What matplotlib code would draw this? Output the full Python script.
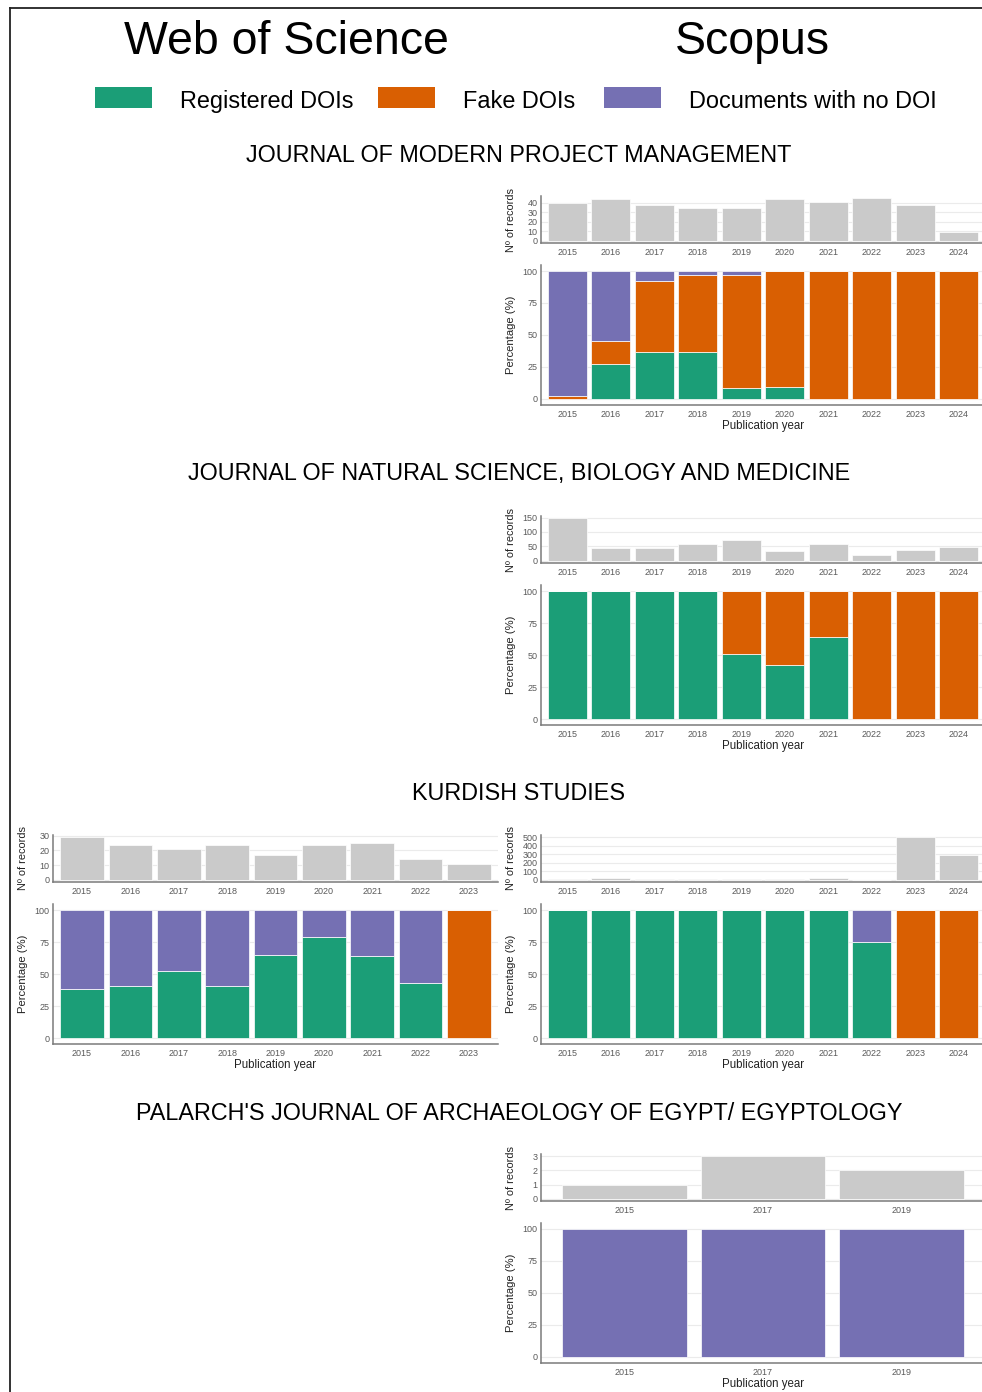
import matplotlib
matplotlib.use('Agg')
import matplotlib.pyplot as plt
from matplotlib.patches import Rectangle
from matplotlib.lines import Line2D
import numpy as np

plt.rcParams['font.family'] = ['Liberation Sans', 'DejaVu Sans']

W, H = 982, 1392

GREEN = '#1B9E77'
ORANGE = '#D95F02'
PURPLE = '#7570B3'
GREY_BAR = '#CACACA'

# ---- data ----
# Journal of Modern Project Management (Scopus)
jmpm_years = ['2015', '2016', '2017', '2018', '2019', '2020', '2021', '2022', '2023', '2024']
jmpm_records = [40, 44, 38, 35, 35, 44, 41, 45, 38, 9]
jmpm_registered = [0, 27, 37, 37, 8.5, 9, 0, 0, 0, 0]
jmpm_fake = [2.5, 18, 55, 60, 88.5, 91, 100, 100, 100, 100]
jmpm_nodoi = [97.5, 55, 8, 3, 3, 0, 0, 0, 0, 0]
jmpm_yticks = [0, 10, 20, 30, 40]

# Journal of Natural Science, Biology and Medicine (Scopus)
jnsbm_years = ['2015', '2016', '2017', '2018', '2019', '2020', '2021', '2022', '2023', '2024']
jnsbm_records = [148, 45, 43, 60, 72, 35, 58, 20, 37, 48]
jnsbm_registered = [100, 100, 100, 100, 51, 42, 64, 0, 0, 0]
jnsbm_fake = [0, 0, 0, 0, 49, 58, 36, 100, 100, 100]
jnsbm_nodoi = [0, 0, 0, 0, 0, 0, 0, 0, 0, 0]
jnsbm_yticks = [0, 50, 100, 150]

# Kurdish Studies (Web of Science)
ks_wos_years = ['2015', '2016', '2017', '2018', '2019', '2020', '2021', '2022', '2023']
ks_wos_records = [29, 24, 21, 24, 17, 24, 25, 14, 11]
ks_wos_registered = [38, 41, 52, 41, 65, 79, 64, 43, 0]
ks_wos_fake = [0, 0, 0, 0, 0, 0, 0, 0, 100]
ks_wos_nodoi = [62, 59, 48, 59, 35, 21, 36, 57, 0]
ks_wos_yticks = [0, 10, 20, 30]

# Kurdish Studies (Scopus)
ks_sc_years = ['2015', '2016', '2017', '2018', '2019', '2020', '2021', '2022', '2023', '2024']
ks_sc_records = [15, 18, 12, 12, 8, 10, 25, 4, 500, 295]
ks_sc_registered = [100, 100, 100, 100, 100, 100, 100, 75, 0, 0]
ks_sc_fake = [0, 0, 0, 0, 0, 0, 0, 0, 100, 100]
ks_sc_nodoi = [0, 0, 0, 0, 0, 0, 0, 25, 0, 0]
ks_sc_yticks = [0, 100, 200, 300, 400, 500]

# Palarch's Journal of Archaeology of Egypt/Egyptology (Scopus)
pja_years = ['2015', '2017', '2019']
pja_records = [1, 3, 2]
pja_registered = [0, 0, 0]
pja_fake = [0, 0, 0]
pja_nodoi = [100, 100, 100]
pja_yticks = [0, 1, 2, 3]

pct_ticks = [0, 25, 50, 75, 100]


def rect(x0, y0, x1, y1):
    return [x0 / W, 1 - y1 / H, (x1 - x0) / W, (y1 - y0) / H]


def style(ax):
    for s in ['top', 'right']:
        ax.spines[s].set_visible(False)
    for s in ['left', 'bottom']:
        ax.spines[s].set_color('#7a7a7a')
        ax.spines[s].set_linewidth(1.1)
    ax.tick_params(length=0, labelsize=6.5, labelcolor='#5a5a5a', pad=3.5)
    ax.tick_params(axis='y', pad=2.5)
    ax.yaxis.grid(True, color='#ebebeb', linewidth=0.8)
    ax.set_axisbelow(True)


def panel(x0, x1, top, years, records, yticks, reg, fake, nodoi):
    n = len(years)
    pos = np.arange(n)
    # records
    ax1 = fig.add_axes(rect(x0, top, x1, top + 47))
    ax1.bar(pos, records, width=0.9, color=GREY_BAR, edgecolor='white', linewidth=0.5)
    ax1.set_xlim(-0.6, n - 0.4)
    m = max(records)
    ax1.set_ylim(-0.05 * m, 1.05 * m)
    ax1.set_yticks(yticks)
    ax1.set_xticks(pos)
    ax1.set_xticklabels(years)
    style(ax1)
    ax1.set_ylabel('Nº of records', fontsize=7.9, color='#222222')
    ax1.yaxis.set_label_coords(-25 / (x1 - x0), 0.5)
    # percentages
    ax2 = fig.add_axes(rect(x0, top + 68.6, x1, top + 209.4))
    reg = np.array(reg, dtype=float)
    fake = np.array(fake, dtype=float)
    nodoi = np.array(nodoi, dtype=float)
    ax2.bar(pos, reg, width=0.9, color=GREEN, edgecolor='white', linewidth=0.5)
    ax2.bar(pos, fake, width=0.9, bottom=reg, color=ORANGE, edgecolor='white', linewidth=0.5)
    ax2.bar(pos, nodoi, width=0.9, bottom=reg + fake, color=PURPLE, edgecolor='white', linewidth=0.5)
    ax2.set_xlim(-0.6, n - 0.4)
    ax2.set_ylim(-5, 105)
    ax2.set_yticks(pct_ticks)
    ax2.set_xticks(pos)
    ax2.set_xticklabels(years)
    style(ax2)
    ax2.set_ylabel('Percentage (%)', fontsize=8.1, color='#222222')
    ax2.yaxis.set_label_coords(-25 / (x1 - x0), 0.5)
    ax2.set_xlabel('Publication year', fontsize=8.3, color='#222222', va='center')
    ax2.xaxis.set_label_coords(0.5, -21 / 140.8)


fig = plt.figure(figsize=(W / 100, H / 100), dpi=100)

# frame lines (left and top)
fig.add_artist(Line2D([10 / W, 10 / W], [0, 1 - 8 / H], color='#222222', linewidth=1.3))
fig.add_artist(Line2D([10 / W, 1], [1 - 8 / H, 1 - 8 / H], color='#222222', linewidth=1.3))

# column headers
fig.text(286 / W, 1 - 42 / H, 'Web of Science', fontsize=33.5, ha='center', va='center')
fig.text(752 / W, 1 - 42 / H, 'Scopus', fontsize=33.5, ha='center', va='center')

# legend
legend_items = [(95, 180, GREEN, 'Registered DOIs'),
                (378, 463, ORANGE, 'Fake DOIs'),
                (604, 689, PURPLE, 'Documents with no DOI')]
for bx, tx, col, lab in legend_items:
    fig.add_artist(Rectangle((bx / W, 1 - 108 / H), 57 / W, 21 / H,
                             transform=fig.transFigure, facecolor=col, edgecolor='none'))
    fig.text(tx / W, 1 - 101.5 / H, lab, fontsize=16.9, ha='left', va='center')

# section titles
titles = [(155, 'JOURNAL OF MODERN PROJECT MANAGEMENT'),
          (474, 'JOURNAL OF NATURAL SCIENCE, BIOLOGY AND MEDICINE'),
          (794, 'KURDISH STUDIES'),
          (1113, "PALARCH'S JOURNAL OF ARCHAEOLOGY OF EGYPT/ EGYPTOLOGY")]
for ty, t in titles:
    fig.text(519 / W, 1 - ty / H, t, fontsize=16.8, ha='center', va='center')

SX0, SX1 = 541, 985
panel(SX0, SX1, 196, jmpm_years, jmpm_records, jmpm_yticks, jmpm_registered, jmpm_fake, jmpm_nodoi)
panel(SX0, SX1, 516, jnsbm_years, jnsbm_records, jnsbm_yticks, jnsbm_registered, jnsbm_fake, jnsbm_nodoi)
panel(53, 498, 835, ks_wos_years, ks_wos_records, ks_wos_yticks, ks_wos_registered, ks_wos_fake, ks_wos_nodoi)
panel(SX0, SX1, 835, ks_sc_years, ks_sc_records, ks_sc_yticks, ks_sc_registered, ks_sc_fake, ks_sc_nodoi)
panel(SX0, SX1, 1154, pja_years, pja_records, pja_yticks, pja_registered, pja_fake, pja_nodoi)

fig.savefig('out.png', dpi=100, facecolor='white')
